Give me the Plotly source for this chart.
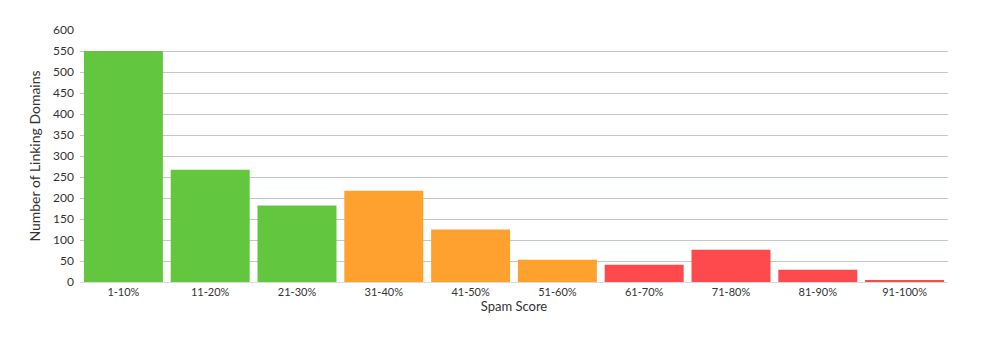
import plotly.graph_objects as go

categories = ["1-10%", "11-20%", "21-30%", "31-40%", "41-50%", "51-60%", "61-70%", "71-80%", "81-90%", "91-100%"]
values = [550, 267, 182, 217, 125, 53, 41, 77, 29, 5]
colors = ["#62C73F"] * 3 + ["#FFA12E"] * 3 + ["#FF4A4D"] * 4

fig = go.Figure(go.Bar(x=categories, y=values, marker=dict(color=colors, line=dict(width=0)),
                       hoverinfo="x+y"))
fig.update_layout(
    width=985, height=340,
    margin=dict(l=80, r=37, t=30, b=58),
    paper_bgcolor="white", plot_bgcolor="white",
    bargap=0.09,
    showlegend=False,
    font=dict(family="Lato", size=11, color="#333333"),
    xaxis=dict(title=dict(text="Spam Score", font=dict(size=13, color="#333333"), standoff=4),
               showgrid=False, showline=True, linecolor="#D5DCDC", linewidth=1,
               ticks="", tickfont=dict(size=11)),
    yaxis=dict(title=dict(text="Number of Linking Domains", font=dict(size=14, color="#333333"), standoff=9),
               range=[0, 600], dtick=50, showgrid=True, gridcolor="#C0C9C9", gridwidth=1,
               zeroline=False, ticks="", ticklabelstandoff=5, tickfont=dict(size=12)),
)
fig.write_html("out.html")
